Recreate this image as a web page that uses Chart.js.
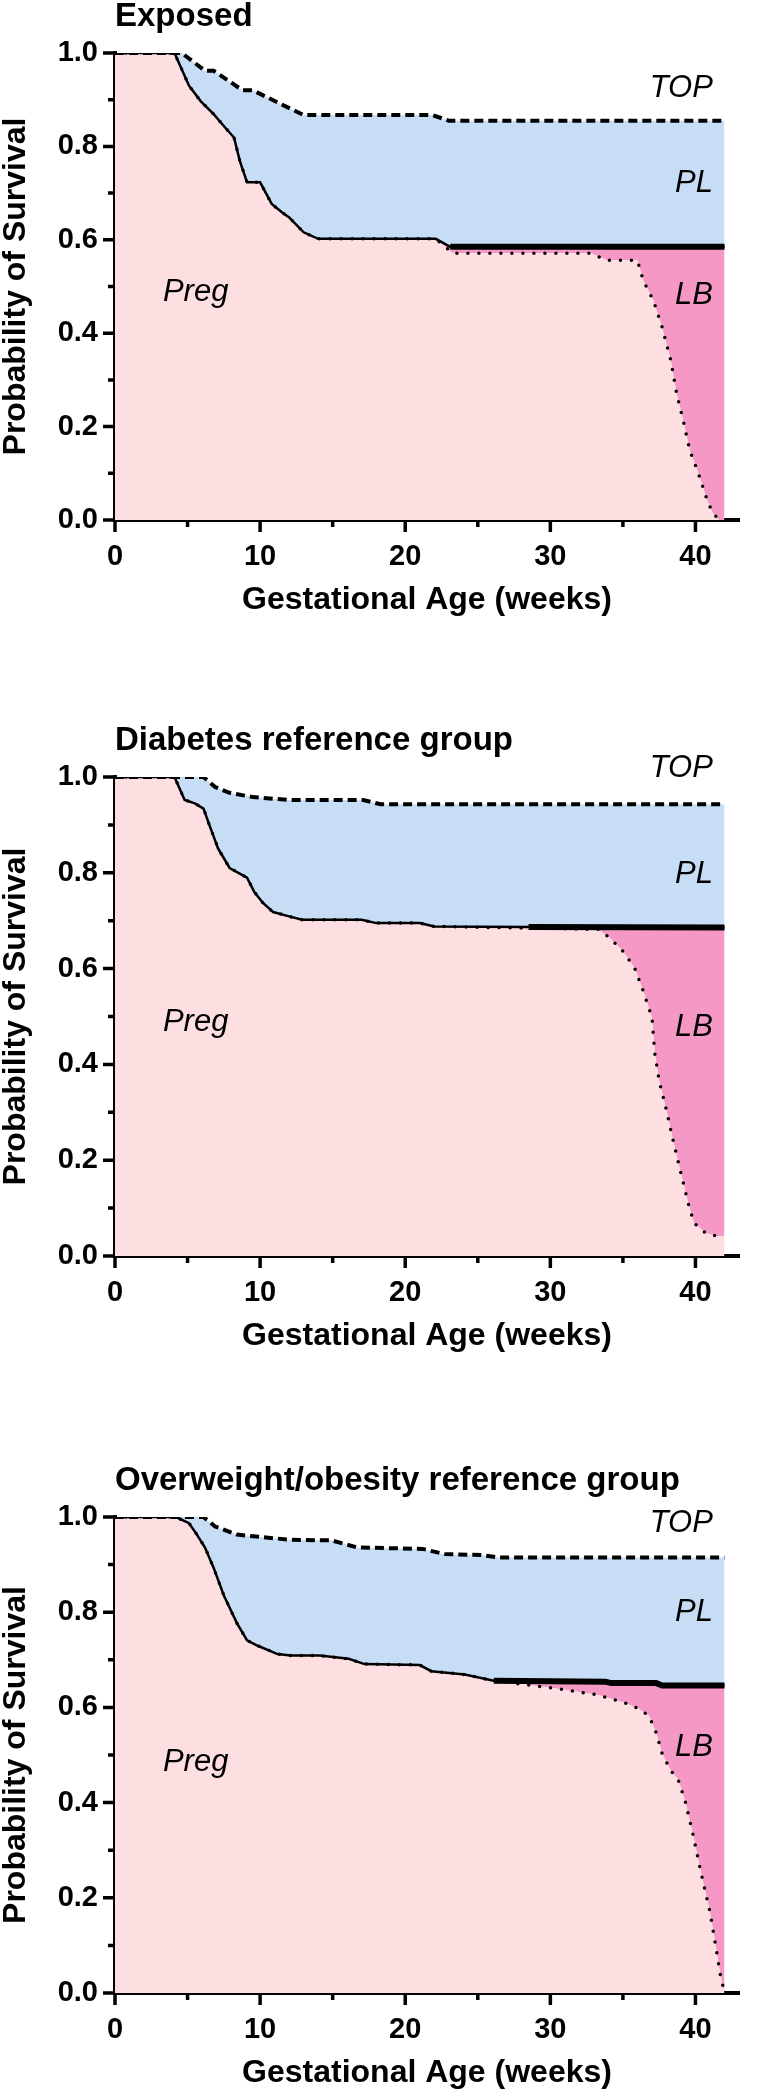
<!DOCTYPE html>
<html>
<head>
<meta charset="utf-8">
<script src="https://cdn.jsdelivr.net/npm/chart.js@4.4.1/dist/chart.umd.min.js"></script>
<style>
  body { margin: 0; background: #fff; width: 763px; height: 2096px; position: relative; overflow: hidden; }
  canvas { position: absolute; left: 0; }
</style>
</head>
<body>
<canvas id="exposed" width="763" height="616" style="top:0"></canvas>
<canvas id="diabetes" width="763" height="628" style="top:724px"></canvas>
<canvas id="overweight" width="763" height="625" style="top:1464px"></canvas>
<script>
// axis ticks
const xTickValues = [0, 10, 20, 30, 40];
const xMinorTicks = [5, 15, 25, 35];
const yTickValues = [0, 0.2, 0.4, 0.6, 0.8, 1.0];
const yMinorTicks = [0.1, 0.3, 0.5, 0.7, 0.9];

// Exposed
const expTopWeeks = [0, 4.6, 6.2, 6.8, 8.8, 9.5, 13.0, 21.9, 23.0, 42];
const expTopSurv  = [1, 1, 0.962, 0.962, 0.92, 0.92, 0.867, 0.867, 0.855, 0.855];
const expPlWeeks  = [0, 4.1, 5.1, 5.9, 6.8, 7.6, 8.2, 8.6, 9.1, 10.0, 10.8, 11.5, 12.0, 13.0, 14.0, 22.1, 23.1, 42];
const expPlSurv   = [1, 1, 0.93, 0.897, 0.869, 0.84, 0.819, 0.769, 0.723, 0.723, 0.677, 0.659, 0.648, 0.616, 0.602, 0.602, 0.585, 0.585];
const expLbWeeks  = [0, 4.1, 5.1, 5.9, 6.8, 7.6, 8.2, 8.6, 9.1, 10.0, 10.8, 11.5, 12.0, 13.0, 14.0, 22.1, 23.3, 32.8, 33.9, 36.0, 36.4, 37.1, 37.7, 38.3, 38.7, 39.2, 39.6, 40.2, 40.8, 41.2, 41.7, 42];
const expLbSurv   = [1, 1, 0.93, 0.897, 0.869, 0.84, 0.819, 0.769, 0.723, 0.723, 0.677, 0.659, 0.648, 0.616, 0.602, 0.602, 0.571, 0.571, 0.556, 0.556, 0.513, 0.47, 0.413, 0.342, 0.271, 0.207, 0.15, 0.10, 0.043, 0.014, 0.0, 0.0];

// Diabetes reference group
const diaTopWeeks = [0, 6.1, 6.9, 7.9, 9.5, 12.0, 17.1, 18.3, 42];
const diaTopSurv  = [1, 1, 0.979, 0.967, 0.958, 0.952, 0.952, 0.943, 0.943];
const diaPlWeeks  = [0, 4.1, 4.8, 5.5, 6.1, 6.5, 7.1, 7.9, 8.5, 9.1, 9.6, 10.2, 10.9, 12.0, 12.9, 17.0, 18.0, 21.0, 22.0, 28.5, 42];
const diaPlSurv   = [1, 1, 0.952, 0.945, 0.934, 0.90, 0.851, 0.81, 0.80, 0.79, 0.76, 0.737, 0.718, 0.709, 0.702, 0.702, 0.695, 0.695, 0.688, 0.687, 0.686];
const diaLbWeeks  = [0, 4.1, 4.8, 5.5, 6.1, 6.5, 7.1, 7.9, 8.5, 9.1, 9.6, 10.2, 10.9, 12.0, 12.9, 17.0, 18.0, 21.0, 22.0, 33.3, 34.1, 35.0, 35.8, 36.4, 37.0, 37.2, 37.5, 38.0, 38.4, 38.95, 39.5, 39.9, 40.7, 41.5, 42];
const diaLbSurv   = [1, 1, 0.952, 0.945, 0.934, 0.90, 0.851, 0.81, 0.80, 0.79, 0.76, 0.737, 0.718, 0.709, 0.702, 0.702, 0.695, 0.695, 0.688, 0.682, 0.664, 0.636, 0.602, 0.553, 0.498, 0.422, 0.366, 0.304, 0.249, 0.179, 0.11, 0.069, 0.048, 0.041, 0.041];

// Overweight/obesity reference group
const owTopWeeks = [0, 6.1, 6.9, 8.4, 10.4, 12.1, 14.9, 16.7, 21.2, 22.7, 25.3, 26.4, 42];
const owTopSurv  = [1, 1, 0.98, 0.963, 0.957, 0.952, 0.951, 0.936, 0.933, 0.922, 0.92, 0.915, 0.915];
const owPlWeeks  = [0, 4.2, 5.1, 5.6, 6.2, 6.8, 7.5, 8.4, 9.1, 9.8, 11.2, 12.1, 14.1, 16.1, 17.2, 21.0, 21.8, 24.1, 26.1, 33.8, 34.2, 37.3, 37.7, 42];
const owPlSurv   = [1, 1, 0.987, 0.965, 0.936, 0.893, 0.835, 0.777, 0.741, 0.73, 0.712, 0.709, 0.709, 0.702, 0.691, 0.689, 0.676, 0.669, 0.656, 0.654, 0.651, 0.651, 0.646, 0.646];
const owLbWeeks  = [0, 4.2, 5.1, 5.6, 6.2, 6.8, 7.5, 8.4, 9.1, 9.8, 11.2, 12.1, 14.1, 16.1, 17.2, 21.0, 21.8, 24.1, 26.1, 29.3, 31.0, 33.3, 35.0, 36.1, 36.8, 37.3, 37.7, 38.3, 38.8, 39.3, 39.85, 40.4, 41.0, 41.4, 41.7, 42];
const owLbSurv   = [1, 1, 0.987, 0.965, 0.936, 0.893, 0.835, 0.777, 0.741, 0.73, 0.712, 0.709, 0.709, 0.702, 0.691, 0.689, 0.676, 0.669, 0.656, 0.644, 0.637, 0.626, 0.611, 0.597, 0.582, 0.546, 0.503, 0.467, 0.449, 0.402, 0.33, 0.25, 0.17, 0.098, 0.04, 0.0];

const FONT = '"Liberation Sans", Arial, Helvetica, sans-serif';
const PREG_FILL = '#FDDEE1';
const LB_FILL = '#F698C6';
const PL_FILL = '#C7DDF6';

// tick marks (major + minor) drawn outward from the axes
const axisTicks = {
  id: 'axisTicks',
  afterDraw(chart) {
    const { ctx, chartArea: a, scales: { x, y } } = chart;
    ctx.save();
    ctx.strokeStyle = '#000';
    ctx.lineWidth = 3.5;
    ctx.beginPath();
    const xt = (v, len) => { const p = x.getPixelForValue(v); ctx.moveTo(p, a.bottom); ctx.lineTo(p, a.bottom + len); };
    const yt = (v, len) => { const p = y.getPixelForValue(v); ctx.moveTo(a.left, p); ctx.lineTo(a.left - len, p); };
    xTickValues.forEach(v => xt(v, 12));
    xMinorTicks.forEach(v => xt(v, 7));
    yTickValues.forEach(v => yt(v, 12));
    yMinorTicks.forEach(v => yt(v, 7));
    ctx.stroke();
    ctx.restore();
  }
};

// TOP / PL / LB / Preg region names
const regionLabels = {
  id: 'regionLabels',
  afterDatasetsDraw(chart, args, opts) {
    const { ctx, scales: { x, y } } = chart;
    ctx.save();
    ctx.font = 'italic 31px ' + FONT;
    ctx.fillStyle = '#000';
    ctx.textBaseline = 'middle';
    opts.items.forEach(it => {
      ctx.textAlign = it.align;
      ctx.fillText(it.text, x.getPixelForValue(it.x), y.getPixelForValue(it.y));
    });
    ctx.restore();
  }
};

function series(weeks, surv) {
  return weeks.map((w, i) => ({ x: w, y: surv[i] }));
}

function makePanel(id, title, top, pl, lb, thickFrom, labels) {
  const tickFont = { family: FONT, size: 29, weight: 'bold', lineHeight: 1.2 };
  const titleFont = { family: FONT, size: 32, weight: 'bold', lineHeight: 1 };
  const plPoints = series(pl[0], pl[1]);
  new Chart(document.getElementById(id), {
    type: 'line',
    data: {
      datasets: [
        {
          label: 'LB', data: series(lb[0], lb[1]),
          borderColor: '#000', borderWidth: 3.5, borderDash: [0, 11], borderCapStyle: 'round',
          fill: 'origin', backgroundColor: PREG_FILL
        },
        {
          label: 'PL', data: plPoints,
          borderColor: '#000', borderWidth: 2.5,
          fill: '-1', backgroundColor: LB_FILL
        },
        {
          label: 'TOP', data: series(top[0], top[1]),
          borderColor: '#000', borderWidth: 4, borderDash: [9, 5],
          fill: '-1', backgroundColor: PL_FILL
        },
        {
          // heavier PL line where live births split off
          label: 'PL end', data: plPoints.filter(p => p.x >= thickFrom),
          borderColor: '#000', borderWidth: 6, fill: false
        }
      ]
    },
    options: {
      responsive: false,
      animation: false,
      events: [],
      layout: { padding: { top: 0, right: 24, bottom: 0, left: 0 }, autoPadding: false },
      elements: { point: { radius: 0 }, line: { tension: 0 } },
      plugins: {
        legend: { display: false },
        tooltip: { enabled: false },
        filler: { drawTime: 'beforeDatasetsDraw' },
        title: {
          display: true, text: title, align: 'start', fullSize: false, color: '#000',
          font: { family: FONT, size: 33, weight: 'bold', lineHeight: 1 },
          padding: { top: 0, bottom: 20 }
        },
        regionLabels: { items: labels }
      },
      scales: {
        x: {
          type: 'linear', min: 0, max: 43,
          afterBuildTicks: s => { s.ticks = xTickValues.map(v => ({ value: v })); },
          afterFit: s => { s.height = 96; },
          grid: { display: false, drawTicks: true, tickLength: 12 },
          border: { display: true, color: '#000', width: 4 },
          ticks: { color: '#000', font: tickFont, padding: 8, maxRotation: 0, autoSkip: false },
          title: { display: true, text: 'Gestational Age (weeks)', color: '#000', font: titleFont, padding: { top: 0, bottom: 0 } }
        },
        y: {
          type: 'linear', min: 0, max: 1,
          afterBuildTicks: s => { s.ticks = yTickValues.map(v => ({ value: v })); },
          afterFit: s => { s.width = 115; },
          grid: { display: false, drawTicks: true, tickLength: 12 },
          border: { display: true, color: '#000', width: 4 },
          ticks: { color: '#000', font: tickFont, padding: 5, callback: v => v.toFixed(1) },
          title: { display: true, text: 'Probability of Survival', color: '#000', font: titleFont, padding: { top: 0, bottom: 0 } }
        }
      }
    },
    plugins: [axisTicks, regionLabels]
  });
}

makePanel('exposed', 'Exposed',
  [expTopWeeks, expTopSurv], [expPlWeeks, expPlSurv], [expLbWeeks, expLbSurv], 23.1,
  [
    { text: 'TOP', x: 41.2, y: 0.925, align: 'right' },
    { text: 'PL', x: 41.2, y: 0.72, align: 'right' },
    { text: 'LB', x: 41.2, y: 0.48, align: 'right' },
    { text: 'Preg', x: 3.3, y: 0.488, align: 'left' }
  ]);

makePanel('diabetes', 'Diabetes reference group',
  [diaTopWeeks, diaTopSurv], [diaPlWeeks, diaPlSurv], [diaLbWeeks, diaLbSurv], 28.5,
  [
    { text: 'TOP', x: 41.2, y: 1.017, align: 'right' },
    { text: 'PL', x: 41.2, y: 0.796, align: 'right' },
    { text: 'LB', x: 41.2, y: 0.477, align: 'right' },
    { text: 'Preg', x: 3.3, y: 0.488, align: 'left' }
  ]);

makePanel('overweight', 'Overweight/obesity reference group',
  [owTopWeeks, owTopSurv], [owPlWeeks, owPlSurv], [owLbWeeks, owLbSurv], 26.1,
  [
    { text: 'TOP', x: 41.2, y: 0.987, align: 'right' },
    { text: 'PL', x: 41.2, y: 0.80, align: 'right' },
    { text: 'LB', x: 41.2, y: 0.517, align: 'right' },
    { text: 'Preg', x: 3.3, y: 0.485, align: 'left' }
  ]);
</script>
</body>
</html>
